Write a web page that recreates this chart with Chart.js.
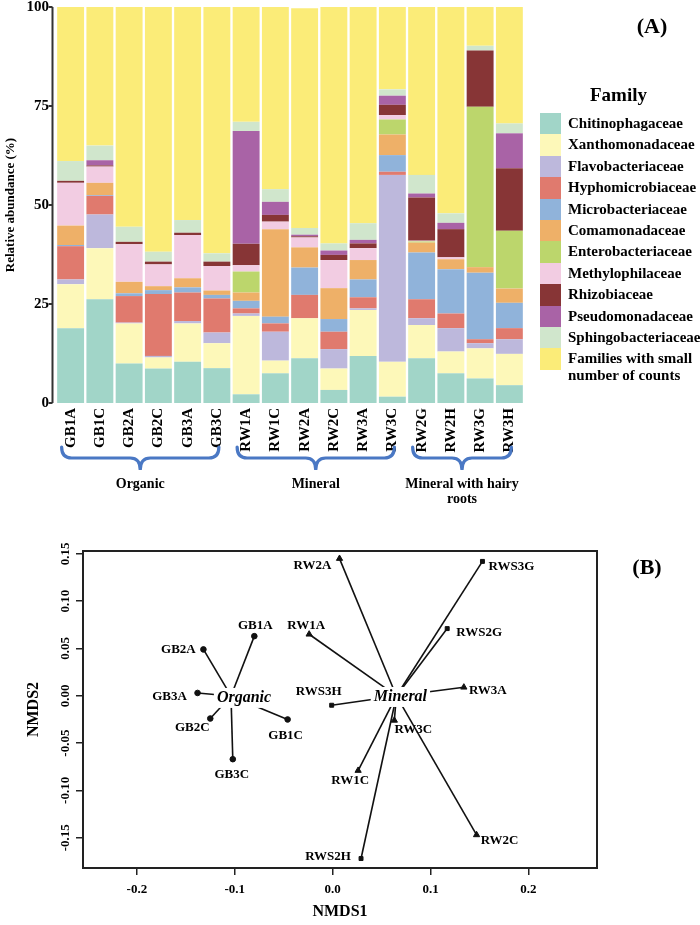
<!DOCTYPE html>
<html>
<head>
<meta charset="utf-8">
<script src="https://cdn.jsdelivr.net/npm/chart.js@4.4.0/dist/chart.umd.min.js"></script>
<style>
body { margin:0; background:#fff; width:700px; height:925px; position:relative; overflow:hidden;
       font-family:"Liberation Serif","DejaVu Serif",serif; font-weight:bold; color:#000; }
#boxA { position:absolute; left:0; top:0; width:700px; height:505px; }
#boxB { position:absolute; left:0; top:505px; width:700px; height:420px; }
#legend { position:absolute; left:540px; top:82px; width:160px; }
#legend .ttl { font-size:19px; margin-left:50px; height:31px; line-height:26px; }
#legend .row { display:flex; align-items:flex-start; height:21.4px; }
#legend .sw { width:21px; height:21.4px; flex:none; }
#legend .lb { font-size:15px; line-height:17px; margin-left:7px; margin-top:2px; white-space:nowrap; }
</style>
</head>
<body>
<div id="boxA"><canvas id="chartA" width="700" height="505"></canvas></div>
<div id="legend"></div>
<div id="boxB"><canvas id="chartB" width="700" height="420"></canvas></div>
<script>
// ---- panel A data: relative abundance (%) per family ----
var samples = ["GB1A","GB1C","GB2A","GB2C","GB3A","GB3C","RW1A","RW1C","RW2A","RW2C","RW3A","RW3C","RW2G","RW2H","RW3G","RW3H"];
var families = ["Chitinophagaceae","Xanthomonadaceae","Flavobacteriaceae","Hyphomicrobiaceae","Microbacteriaceae",
  "Comamonadaceae","Enterobacteriaceae","Methylophilaceae","Rhizobiaceae","Pseudomonadaceae","Sphingobacteriaceae",
  "Families with small number of counts"];

var chitino  = [18.9,26.2,10.0, 8.7,10.4, 8.8, 2.2, 7.5,11.3, 3.3,11.9, 1.6,11.3, 7.5, 6.2, 4.5];
var xantho   = [11.1,12.9,10.1, 2.8, 9.7, 6.3,19.8, 3.2,10.1, 5.4,11.6, 8.8, 8.4, 5.5, 7.6, 7.9];
var flavo    = [ 1.2, 8.5, 0.2, 0.4, 0.6, 2.7, 0.6, 7.3, 0.0, 4.9, 0.4,47.2, 1.7, 5.9, 1.3, 3.7];
var hypho    = [ 8.4, 4.7, 6.7,15.6, 7.2, 8.6, 1.3, 2.1, 5.9, 4.4, 2.8, 0.8, 4.8, 3.7, 1.0, 2.8];
var microb   = [ 0.3, 0.2, 0.7, 1.0, 1.3, 0.9, 1.9, 1.7, 6.9, 3.2, 4.5, 4.2,11.8,11.2,16.8, 6.4];
var comamo   = [ 4.9, 3.1, 2.9, 1.0, 2.3, 1.1, 2.1,22.1, 5.1, 7.8, 4.9, 5.2, 2.5, 2.5, 1.4, 3.6];
var entero   = [ 0.0, 0.0, 0.0, 0.0, 0.0, 0.0, 5.3, 0.0, 0.0, 0.0, 0.0, 3.8, 0.3, 0.0,40.5,14.6];
var methylo  = [10.8, 4.1, 9.5, 5.5,10.9, 6.2, 1.6, 1.9, 2.5, 7.1, 3.0, 1.1, 0.2, 0.5, 0.0, 0.0];
var rhizo    = [ 0.5, 0.3, 0.6, 0.7, 0.6, 1.1, 5.4, 1.7, 0.3, 1.3, 1.2, 2.6,10.9, 7.1,14.2,15.8];
var pseudo   = [ 0.0, 1.3, 0.0, 0.0, 0.0, 0.0,28.5, 3.3, 0.4, 1.1, 0.9, 2.3, 1.0, 1.6, 0.0, 8.8];
var sphingo  = [ 5.0, 3.7, 3.8, 2.5, 3.2, 2.1, 2.3, 3.2, 1.7, 1.8, 4.2, 1.6, 4.7, 2.4, 1.2, 2.5];
var small    = [38.9,35.0,55.5,61.8,53.8,62.2,29.0,46.0,55.5,59.7,54.6,20.8,42.4,52.1, 9.8,29.4];

var yTicksA = [0, 25, 50, 75, 100];
var groups = ["Organic", "Mineral", "Mineral with hairy|roots"];
var groupFirst = [0, 6, 12];
var groupLast = [5, 11, 15];

// ---- panel B data: NMDS scores ----
var ptNames = ["GB1A","GB2A","GB3A","GB2C","GB3C","GB1C",
  "RW2A","RW1A","RWS3H","RW1C","RWS2H","RW3C","RW3A","RWS2G","RWS3G","RW2C"];
var ptGroup = ["Organic","Organic","Organic","Organic","Organic","Organic",
  "Mineral","Mineral","Mineral","Mineral","Mineral","Mineral","Mineral","Mineral","Mineral","Mineral"];
var nmds1 = [-0.080,-0.132,-0.138,-0.125,-0.102,-0.046, 0.007,-0.024,-0.001, 0.026, 0.029, 0.063, 0.134, 0.117, 0.153, 0.147];
var nmds2 = [ 0.063, 0.049, 0.003,-0.024,-0.067,-0.025, 0.145, 0.065,-0.010,-0.079,-0.172,-0.026, 0.009, 0.071, 0.142,-0.147];
var xTicksB = [-0.2, -0.1, 0.0, 0.1, 0.2];
var yTicksB = [-0.15, -0.10, -0.05, 0.00, 0.05, 0.10, 0.15];

// ---- styles ----
var famColors = ["#a1d5c8","#fdf8b9","#bdb8dc","#e07a6e","#90b3da","#eeb068","#bcd66c","#f2cce2","#873536","#a963a6","#d0e6cc","#fbec78"];
var serif = "'Liberation Serif','DejaVu Serif',serif";
var braceBlue = "#4a78c4";
var labelOffset = {GB1A:[1,-11],GB2A:[-25,0],GB3A:[-28,4],GB2C:[-18,9],GB3C:[-1,15],GB1C:[-2,16],
  RW2A:[-27,7],RW1A:[-3,-9],RWS3H:[-13,-14],RW1C:[-8,10],RWS2H:[-33,-2],RW3C:[19,9],RW3A:[24,3],
  RWS2G:[32,4],RWS3G:[29,5],RW2C:[23,6]};
var centroidOffset = {Organic:[13,2], Mineral:[4,1]};

Chart.defaults.font.family = serif;
Chart.defaults.font.weight = "bold";
Chart.defaults.color = "#000";

// legend (html)
var legendBox = document.getElementById("legend");
var html = '<div class="ttl">Family</div>';
families.forEach(function(f, i) {
  var txt = f === "Families with small number of counts" ? "Families with small<br>number of counts" : f;
  html += '<div class="row"><div class="sw" style="background:' + famColors[i] + '"></div><div class="lb">' + txt + '</div></div>';
});
legendBox.innerHTML = html;

function noEdgePad(s) {
  s.paddingTop = 0; s.paddingBottom = 0; s.paddingLeft = 0; s.paddingRight = 0;
}

function drawBrace(ctx, x1, x2, y0) {
  var xm = (x1 + x2) / 2, y1 = y0 + 11, y2 = y0 + 23, r = 10;
  ctx.beginPath();
  ctx.moveTo(x1, y0);
  ctx.quadraticCurveTo(x1, y1, x1 + r, y1);
  ctx.lineTo(xm - r, y1);
  ctx.quadraticCurveTo(xm, y1, xm, y2);
  ctx.quadraticCurveTo(xm, y1, xm + r, y1);
  ctx.lineTo(x2 - r, y1);
  ctx.quadraticCurveTo(x2, y1, x2, y0);
  ctx.stroke();
}

var decorA = {
  id: "decorA",
  afterDraw: function(chart) {
    var ctx = chart.ctx, xs = chart.scales.x, ys = chart.scales.y;
    ctx.save();
    // y axis line, R style
    var ax = chart.chartArea.left - 3.5;
    ctx.strokeStyle = "#333"; ctx.lineWidth = 2;
    ctx.beginPath();
    ctx.moveTo(ax, ys.getPixelForValue(0)); ctx.lineTo(ax, ys.getPixelForValue(100));
    yTicksA.forEach(function(v) {
      var y = ys.getPixelForValue(v);
      ctx.moveTo(ax, y); ctx.lineTo(ax - 4, y);
    });
    ctx.stroke();
    // braces + group labels
    ctx.strokeStyle = braceBlue; ctx.lineWidth = 3.2; ctx.lineCap = "round";
    ctx.fillStyle = "#000"; ctx.textAlign = "center"; ctx.textBaseline = "middle";
    ctx.font = "bold 14px " + serif;
    groups.forEach(function(g, i) {
      var x1 = xs.getPixelForValue(groupFirst[i]) - 9;
      var x2 = xs.getPixelForValue(groupLast[i]) + 2;
      drawBrace(ctx, x1, x2, 447);
      var lines = g.split("|");
      lines.forEach(function(t, j) { ctx.fillText(t, (x1 + x2) / 2, 484 + j * 15); });
    });
    ctx.font = "bold 22px " + serif;
    ctx.fillText("(A)", 652, 27);
    ctx.restore();
  }
};

var dsA = [chitino, xantho, flavo, hypho, microb, comamo, entero, methylo, rhizo, pseudo, sphingo, small].map(function(d, i) {
  return { label: families[i], data: d, backgroundColor: famColors[i], borderWidth: 0,
           barPercentage: 0.92, categoryPercentage: 1.0 };
});

new Chart(document.getElementById("chartA"), {
  type: "bar",
  data: { labels: samples, datasets: dsA },
  options: {
    responsive: false, animation: false, devicePixelRatio: 1,
    layout: { padding: { top: 7, right: 176, left: 0, bottom: 0 } },
    plugins: { legend: { display: false }, tooltip: { enabled: false } },
    scales: {
      x: {
        stacked: true,
        grid: { display: false, drawTicks: false }, border: { display: false },
        ticks: { font: { size: 15, weight: "bold" }, color: "#000", minRotation: 90, maxRotation: 90, autoSkip: false, padding: 5 },
        afterFit: function(s) { s.height = 102; noEdgePad(s); }
      },
      y: {
        stacked: true, min: 0, max: 100,
        grid: { display: false, drawTicks: false }, border: { display: false },
        ticks: { stepSize: 25, font: { size: 15, weight: "bold" }, color: "#000", padding: 7 },
        title: { display: true, text: "Relative abundance (%)", font: { size: 13, weight: "bold" }, color: "#000", padding: { top: 3, bottom: 0 } },
        afterFit: function(s) { s.width = 56; noEdgePad(s); }
      }
    }
  },
  plugins: [decorA]
});

// ---- panel B ----
var cent = {};
["Organic", "Mineral"].forEach(function(g) {
  var sx = 0, sy = 0, n = 0;
  ptNames.forEach(function(p, i) { if (ptGroup[i] === g) { sx += nmds1[i]; sy += nmds2[i]; n++; } });
  cent[g] = { x: sx / n, y: sy / n };
});

function markerFor(name) {
  if (name.indexOf("GB") === 0) return { style: "circle", r: 2.8 };
  if (name.indexOf("RWS") === 0) return { style: "rect", r: 2.8 };
  return { style: "triangle", r: 3.6 };
}

var dsB = ptNames.map(function(p, i) {
  var c = cent[ptGroup[i]], m = markerFor(p);
  return {
    label: p,
    data: [{ x: c.x, y: c.y }, { x: nmds1[i], y: nmds2[i] }],
    showLine: true, borderColor: "#111", borderWidth: 1.6,
    pointRadius: [0, m.r], pointStyle: m.style,
    pointBackgroundColor: "#111", pointBorderColor: "#111", pointBorderWidth: 1
  };
});

var decorB = {
  id: "decorB",
  afterDatasetsDraw: function(chart) {
    var ctx = chart.ctx, xs = chart.scales.x, ys = chart.scales.y, a = chart.chartArea;
    ctx.save();
    // frame
    ctx.strokeStyle = "#222"; ctx.lineWidth = 2;
    ctx.strokeRect(a.left, a.top, a.right - a.left, a.bottom - a.top);
    // rotated y tick labels (R style)
    ctx.fillStyle = "#000"; ctx.textAlign = "center"; ctx.textBaseline = "middle";
    ctx.font = "bold 13px " + serif;
    yTicksB.forEach(function(v) {
      ctx.save();
      ctx.translate(66, ys.getPixelForValue(v));
      ctx.rotate(-Math.PI / 2);
      ctx.fillText(v.toFixed(2), 0, 0);
      ctx.restore();
    });
    // point labels
    ctx.font = "bold 13px " + serif;
    ptNames.forEach(function(p, i) {
      var o = labelOffset[p];
      ctx.fillText(p, xs.getPixelForValue(nmds1[i]) + o[0], ys.getPixelForValue(nmds2[i]) + o[1]);
    });
    // centroid labels with white box
    ctx.font = "italic bold 16px " + serif;
    Object.keys(cent).forEach(function(g) {
      var o = centroidOffset[g];
      var x = xs.getPixelForValue(cent[g].x) + o[0], y = ys.getPixelForValue(cent[g].y) + o[1];
      var w = ctx.measureText(g).width + 6;
      ctx.fillStyle = "#fff";
      ctx.fillRect(x - w / 2, y - 10, w, 20);
      ctx.fillStyle = "#000";
      ctx.fillText(g, x, y);
    });
    ctx.font = "bold 22px " + serif;
    ctx.fillText("(B)", 647, 63);
    ctx.restore();
  }
};

new Chart(document.getElementById("chartB"), {
  type: "scatter",
  data: { datasets: dsB },
  options: {
    responsive: false, animation: false, devicePixelRatio: 1,
    layout: { padding: { top: 46, right: 103, left: 0, bottom: 0 } },
    plugins: { legend: { display: false }, tooltip: { enabled: false } },
    scales: {
      x: {
        min: -0.255, max: 0.27,
        afterBuildTicks: function(s) { s.ticks = xTicksB.map(function(v) { return { value: v }; }); },
        grid: { drawOnChartArea: false, drawTicks: true, tickLength: 7, color: "#222", lineWidth: 1.5 },
        border: { display: false },
        ticks: { font: { size: 13, weight: "bold" }, color: "#000", padding: 7, maxRotation: 0,
                 callback: function(v) { return Number(v).toFixed(1); } },
        title: { display: true, text: "NMDS1", font: { size: 16, weight: "bold" }, color: "#000", padding: { top: 0, bottom: 4 } },
        afterFit: function(s) { s.height = 57; noEdgePad(s); }
      },
      y: {
        min: -0.182, max: 0.153,
        afterBuildTicks: function(s) { s.ticks = yTicksB.map(function(v) { return { value: v }; }); },
        grid: { drawOnChartArea: false, drawTicks: true, tickLength: 7, color: "#222", lineWidth: 1.5 },
        border: { display: false },
        ticks: { display: false },
        title: { display: true, text: "NMDS2", font: { size: 16, weight: "bold" }, color: "#000", padding: { top: 24, bottom: 0 } },
        afterFit: function(s) { s.width = 83; noEdgePad(s); }
      }
    }
  },
  plugins: [decorB]
});
</script>
</body>
</html>
